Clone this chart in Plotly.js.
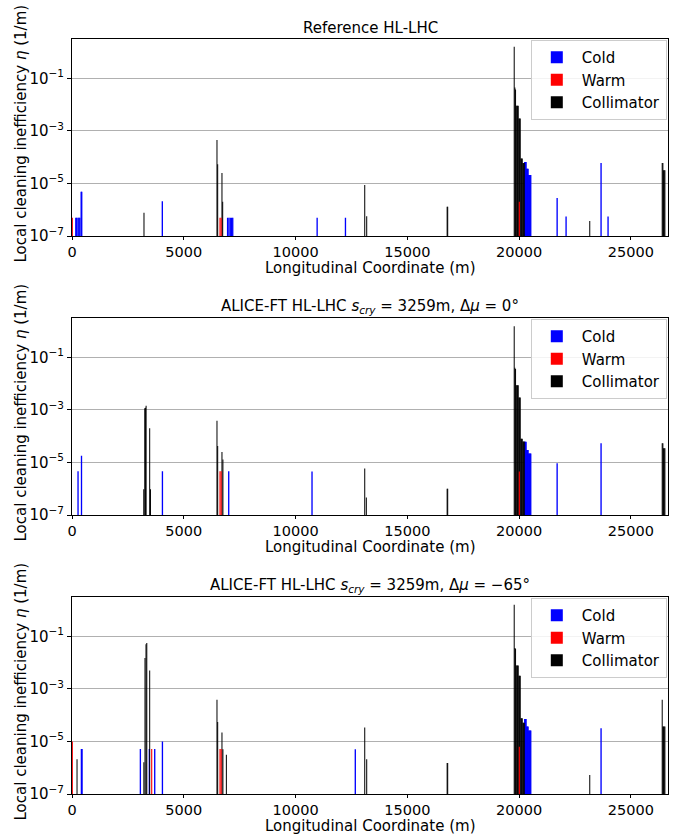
<!DOCTYPE html>
<html><head><meta charset="utf-8">
<script src="https://cdn.plot.ly/plotly-3.0.1.min.js"></script>
<style>html,body{margin:0;padding:0;background:#fff}#chart{width:676px;height:834px}</style>
</head><body><div id="chart"></div>
<script>
// ---------- data (s in metres, eta in 1/m) ----------
const ringLength = 26659;
const xTicks = [0, 5000, 10000, 15000, 20000, 25000];
const yTicks = [1e-7, 1e-5, 1e-3, 1e-1];
const yTickText = ['10<sup>\u22127</sup>', '10<sup>\u22125</sup>', '10<sup>\u22123</sup>', '10<sup>\u22121</sup>'];
const panelTitles = [
  'Reference HL-LHC',
  'ALICE-FT HL-LHC <i>s</i><sub><i>cry</i></sub> = 3259m, \u0394<i>\u03bc</i> = 0\u00b0',
  'ALICE-FT HL-LHC <i>s</i><sub><i>cry</i></sub> = 3259m, \u0394<i>\u03bc</i> = \u221265\u00b0'
];

// Panel 1: Reference HL-LHC
const p1ColdS   = [170, 210, 270, 310, 350, 410, 435, 4040, 6960, 7020, 7080, 7140, 7190, 10965, 12232,
                   20250, 20280, 20310, 20340, 20370, 20400, 20430, 20460, 20490, 20520, 21700, 22100, 23665, 23978];
const p1ColdEta = [5e-7, 5e-7, 5e-7, 5e-7, 5e-7, 4.8e-6, 4.8e-6, 2.1e-6, 5e-7, 5e-7, 5e-7, 5e-7, 5e-7, 5e-7, 5e-7,
                   6.5e-5, 6.5e-5, 6.5e-5, 3.6e-5, 3.6e-5, 3.6e-5, 2.1e-5, 2.1e-5, 2.1e-5, 2.1e-5, 2.8e-6, 5.5e-7, 6e-5, 5.5e-7];
const p1WarmS   = [15, 6620, 6670, 20010];
const p1WarmEta = [5e-7, 5e-7, 5e-7, 2e-6];
const p1CollS   = [3220, 6485, 6516, 6708, 6740, 13094, 13182, 16780, 16805,
                   19780, 19810, 19840, 19870, 19900, 19930, 19960, 19990, 20020, 20050, 20080, 20110, 20140, 20170, 20200, 20230,
                   23159, 26400, 26430, 26460, 26490, 26520];
const p1CollEta = [7.7e-7, 4.5e-4, 5.4e-5, 2.5e-5, 2e-6, 8.7e-6, 5.7e-7, 1.3e-6, 1.3e-6,
                   1.6, 0.045, 0.038, 0.009, 0.009, 0.009, 0.009, 0.003, 0.003, 0.003, 9e-5, 9e-5, 9e-5, 6e-5, 6e-5, 6e-5,
                   3.7e-7, 6e-5, 6e-5, 3.2e-5, 3.2e-5, 3.2e-5];

// Panel 2: ALICE-FT, delta mu = 0 deg
const p2ColdS   = [270, 425, 4045, 7010, 10736,
                   20250, 20280, 20310, 20340, 20370, 20400, 20430, 20460, 20490, 20520, 21700, 23665];
const p2ColdEta = [4.6e-6, 1.8e-5, 4.6e-6, 4.6e-6, 4.5e-6,
                   6.2e-5, 6.2e-5, 6.2e-5, 3e-5, 3e-5, 3e-5, 2.2e-5, 2.2e-5, 2.2e-5, 2.2e-5, 9.3e-6, 5.4e-5];
const p2WarmS   = [6620, 6670, 20010];
const p2WarmEta = [4.6e-6, 4.6e-6, 4.5e-6];
const p2CollS   = [3210, 3255, 3285, 3315, 3475, 3510, 6485, 6516, 6708, 6750, 13094, 13165, 16780, 16805,
                   19780, 19810, 19840, 19870, 19900, 19930, 19960, 19990, 20020, 20050, 20080, 20110, 20140, 20170, 20200, 20230,
                   26400, 26430, 26460, 26490, 26520];
const p2CollEta = [9.5e-7, 1.15e-3, 1.2e-3, 1.45e-3, 2e-4, 9.5e-7, 3.9e-4, 4.2e-5, 2.5e-5, 1.3e-5, 5.9e-6, 4.6e-7, 1e-6, 1e-6,
                   1.55, 0.04, 0.036, 0.0087, 0.0087, 0.0087, 0.0087, 0.003, 0.003, 0.003, 8e-5, 8e-5, 8e-5, 6.3e-5, 6.3e-5, 6.3e-5,
                   5.4e-5, 5.4e-5, 3.5e-5, 3.5e-5, 3.5e-5];

// Panel 3: ALICE-FT, delta mu = -65 deg
const p3ColdS   = [420, 450, 3058, 3460, 3700, 4045, 12672,
                   20250, 20280, 20310, 20340, 20370, 20400, 20430, 20460, 20490, 20520, 23665];
const p3ColdEta = [5.2e-6, 5.2e-6, 5.2e-6, 5.2e-6, 5.2e-6, 1e-5, 5e-6,
                   7.2e-5, 7.2e-5, 7.2e-5, 3.7e-5, 3.7e-5, 3.7e-5, 2.6e-5, 2.6e-5, 2.6e-5, 2.6e-5, 3.2e-5];
const p3WarmS   = [15, 3565, 6620, 6670, 20010];
const p3WarmEta = [1e-5, 5.2e-6, 5.2e-6, 5.2e-6, 6.3e-6];
const p3CollS   = [225, 3215, 3265, 3310, 3345, 3475, 6485, 6516, 6708, 6750, 6905, 13094, 13182, 16780, 16805,
                   19780, 19810, 19840, 19870, 19900, 19930, 19960, 19990, 20020, 20050, 20080, 20110, 20140, 20170, 20200, 20230,
                   23159, 26400, 26430, 26460, 26490, 26520];
const p3CollEta = [2.1e-6, 1.6e-6, 0.015, 0.05, 0.056, 5e-3, 3.9e-4, 5.5e-5, 2.2e-5, 5e-6, 3.1e-6, 3.4e-5, 2.1e-6, 1.5e-6, 1.5e-6,
                   1.6, 0.036, 0.034, 0.0078, 0.0078, 0.0078, 0.0078, 0.0032, 0.0032, 0.0032, 7.7e-5, 7.7e-5, 7.7e-5, 5.2e-5, 5.2e-5, 5.2e-5,
                   5.3e-7, 3.9e-4, 3.7e-5, 3.7e-5, 3.7e-5, 3.7e-5];

// ---------- figure ----------
const panels = [
  {cold: [p1ColdS, p1ColdEta], warm: [p1WarmS, p1WarmEta], coll: [p1CollS, p1CollEta]},
  {cold: [p2ColdS, p2ColdEta], warm: [p2WarmS, p2WarmEta], coll: [p2CollS, p2CollEta]},
  {cold: [p3ColdS, p3ColdEta], warm: [p3WarmS, p3WarmEta], coll: [p3CollS, p3CollEta]}
];
const H = 834, W = 676, L = 72, R = 8;
const plotW = W - L - R;
const pxTop = [39, 318, 597], pxBot = [236, 515, 794];
const FONT = 'DejaVu Sans, Liberation Sans, sans-serif';
const FS = 15;

const traces = [];
const layout = {
  width: W, height: H,
  margin: {l: L, r: R, t: 0, b: 0},
  paper_bgcolor: '#ffffff', plot_bgcolor: '#ffffff',
  barmode: 'overlay',
  showlegend: true,
  font: {family: FONT, size: FS, color: '#000000'},
  annotations: []
};

panels.forEach((p, i) => {
  const sfx = i === 0 ? '' : String(i + 1);
  const leg = 'legend' + sfx;
  const yTop = 1 - pxTop[i] / H, yBot = 1 - pxBot[i] / H;
  const common = {type: 'bar', xaxis: 'x' + sfx, yaxis: 'y' + sfx, legend: leg, hoverinfo: 'skip'};
  traces.push(Object.assign({}, common, {x: p.cold[0], y: p.cold[1], name: 'Cold', width: 60,
    marker: {color: '#0000ff', line: {width: 0}}, legendrank: 1}));
  traces.push(Object.assign({}, common, {x: p.coll[0], y: p.coll[1], name: 'Collimator', width: 45,
    marker: {color: '#000000', line: {width: 0}}, legendrank: 3}));
  traces.push(Object.assign({}, common, {x: p.warm[0], y: p.warm[1], name: 'Warm', width: 50,
    marker: {color: '#ff0000', line: {width: 0}}, legendrank: 2}));

  layout['xaxis' + sfx] = {
    domain: [0, 1], anchor: 'y' + sfx, range: [0, ringLength],
    tickmode: 'array', tickvals: xTicks, ticktext: xTicks.map(String),
    ticks: 'outside', ticklen: 3, tickwidth: 1, tickcolor: '#000',
    showline: true, linecolor: '#000', linewidth: 1, mirror: true,
    showgrid: false, zeroline: false, fixedrange: true,
    tickfont: {family: FONT, size: 14.5, color: '#000'}
  };
  layout['yaxis' + sfx] = {
    domain: [yBot, yTop], anchor: 'x' + sfx, type: 'log', range: [-7, 0.5],
    tickmode: 'array', tickvals: yTicks, ticktext: yTickText,
    ticks: 'outside', ticklen: 4, tickwidth: 1, tickcolor: '#000',
    showline: true, linecolor: '#000', linewidth: 1, mirror: true,
    showgrid: true, gridcolor: '#b0b0b0', gridwidth: 1, zeroline: false, fixedrange: true,
    tickfont: {family: FONT, size: FS, color: '#000'}
  };
  layout[leg] = {
    x: 0.998, xanchor: 'right', y: yTop - 1 / H, yanchor: 'top',
    bgcolor: 'rgba(255,255,255,0.85)', bordercolor: '#cccccc', borderwidth: 1,
    font: {family: FONT, size: FS, color: '#000'},
    traceorder: 'normal', itemwidth: 40
  };
  // panel title
  layout.annotations.push({text: panelTitles[i], xref: 'paper', yref: 'paper', x: 0.5, y: yTop,
    xanchor: 'center', yanchor: 'bottom', yshift: 0, showarrow: false,
    font: {family: FONT, size: FS, color: '#000'}});
  // x-axis title
  layout.annotations.push({text: 'Longitudinal Coordinate (m)', xref: 'paper', yref: 'paper', x: 0.5, y: yBot,
    xanchor: 'center', yanchor: 'top', yshift: -21, showarrow: false,
    font: {family: FONT, size: FS, color: '#000'}});
  // y-axis title
  layout.annotations.push({text: 'Local cleaning inefficiency <i>\u03b7</i> (1/m)', xref: 'paper', yref: 'paper',
    x: -(L - 20) / plotW, y: (yTop + yBot) / 2 + 4 / H, xanchor: 'center', yanchor: 'middle', textangle: -90,
    showarrow: false, font: {family: FONT, size: FS, color: '#000'}});
});

Plotly.newPlot('chart', traces, layout, {staticPlot: true, displayModeBar: false});
</script></body></html>
